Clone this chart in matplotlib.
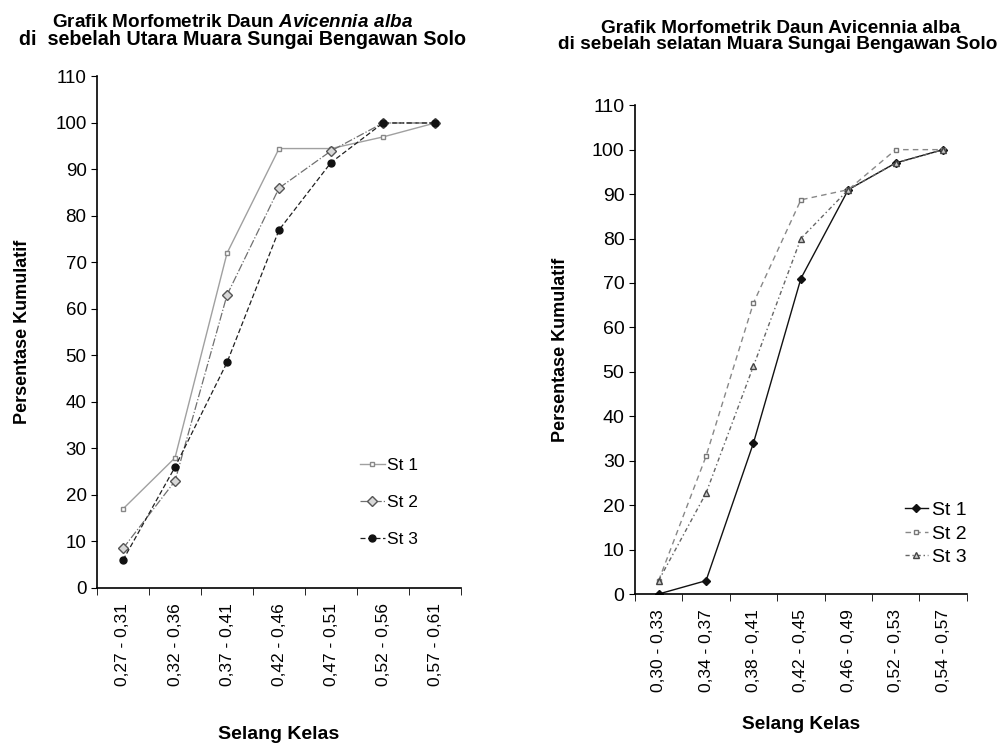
import numpy as np
import matplotlib
matplotlib.use("Agg")
from matplotlib import pyplot as plt

plt.rcParams['font.family'] = ['Liberation Sans', 'DejaVu Sans']
plt.rcParams['mathtext.fontset'] = 'custom'
plt.rcParams['mathtext.rm'] = 'Liberation Sans'
plt.rcParams['mathtext.bf'] = 'Liberation Sans:bold'
plt.rcParams['mathtext.bfit'] = 'Liberation Sans:bold:italic'

# kiri: sebelah utara
kelas_utara = ['0,27 - 0,31', '0,32 - 0,36', '0,37 - 0,41', '0,42 - 0,46',
               '0,47 - 0,51', '0,52 - 0,56', '0,57 - 0,61']
utara_st1 = [17, 28, 72, 94.5, 94.5, 97, 100]
utara_st2 = [8.5, 23, 63, 86, 94, 100, 100]
utara_st3 = [6, 26, 48.5, 77, 91.5, 100, 100]

# kanan: sebelah selatan
kelas_selatan = ['0,30 - 0,33', '0,34 - 0,37', '0,38 - 0,41', '0,42 - 0,45',
                 '0,46 - 0,49', '0,52 - 0,53', '0,54 - 0,57']
selatan_st1 = [0, 3, 34, 71, 91, 97, 100]
selatan_st2 = [3, 31, 65.5, 88.7, 91, 100, 100]
selatan_st3 = [3, 22.7, 51.3, 80, 91, 97, 100]

yticks = np.arange(0, 111, 10)

fig = plt.figure(figsize=(10.03, 7.44), dpi=100)
H = 744.0
W = 1003.0


def setup(ax, kelas, ysize, xlblsize, ylblsize):
    x = np.arange(len(kelas))
    ax.set_xlim(-0.5, len(kelas) - 0.5)
    ax.set_ylim(0, 110)
    ax.set_yticks(yticks)
    ax.set_xticks(x)
    ax.set_xticklabels(kelas, rotation=90, fontsize=12.5)
    ax.tick_params(axis='x', which='major', length=0, pad=11)
    ax.set_xticks(np.arange(-0.5, len(kelas)), minor=True)
    ax.tick_params(axis='x', which='minor', length=5, direction='out')
    ax.tick_params(axis='y', labelsize=ysize, length=4, direction='out')
    for s in ['top', 'right']:
        ax.spines[s].set_visible(False)
    ax.spines['left'].set_linewidth(1.2)
    ax.spines['bottom'].set_linewidth(1.2)
    ax.set_ylabel('Persentase Kumulatif', fontsize=ylblsize, fontweight='bold')
    ax.set_xlabel('Selang Kelas', fontsize=xlblsize, fontweight='bold')
    return x


ax1 = fig.add_axes([0.0967, 0.2097, 0.363, 0.6875])
x1 = setup(ax1, kelas_utara, 13.5, 14, 13)
ax1.plot(x1, utara_st1, color='#a0a0a0', lw=1, marker='s', ms=3,
         mfc='white', mec='#888888', label='St 1')
ax1.plot(x1, utara_st2, color='#707070', lw=0.9, ls='-.', marker='D', ms=5,
         mfc='#d8d8d8', mec='#555555', label='St 2')
ax1.plot(x1, utara_st3, color='#202020', lw=0.9, ls=(0, (4, 2)), marker='o',
         ms=5, mfc='#111111', mec='#111111', label='St 3')
ax1.yaxis.set_label_coords(-0.18, 0.5)
ax1.xaxis.set_label_coords(0.5, -0.27)
ax1.legend(loc='upper left', bbox_to_anchor=(0.68, 0.285), frameon=False,
           fontsize=12.5, handlelength=1.4, labelspacing=1.25,
           handletextpad=0.15)
fig.text(233 / W, 1 - 27 / H,
         'Grafik Morfometrik Daun $\\mathbfit{Avicennia\\ alba}$',
         ha='center', va='baseline', fontsize=13.6, fontweight='bold')
fig.text(243 / W, 1 - 45 / H,
         'di  sebelah Utara Muara Sungai Bengawan Solo',
         ha='center', va='baseline', fontsize=14.2, fontweight='bold')

ax2 = fig.add_axes([0.633, 0.2016, 0.331, 0.657])
x2 = setup(ax2, kelas_selatan, 14, 13.7, 13)
ax2.plot(x2, selatan_st1, color='#111111', lw=1, marker='D', ms=4,
         mfc='#111111', label='St 1')
ax2.plot(x2, selatan_st2, color='#888888', lw=1, ls=(0, (4, 3)), marker='s',
         ms=3, mfc='white', mec='#777777', label='St 2')
ax2.plot(x2, selatan_st3, color='#666666', lw=1, ls=(0, (3, 2, 1, 2)),
         marker='^', ms=4, mfc='#cccccc', mec='#444444', label='St 3')
ax2.yaxis.set_label_coords(-0.2, 0.5)
ax2.xaxis.set_label_coords(0.5, -0.25)
ax2.legend(loc='upper left', bbox_to_anchor=(0.76, 0.225), frameon=False,
           fontsize=14, handlelength=1.2, labelspacing=0.3,
           handletextpad=0.2)
fig.text(781 / W, 1 - 33 / H, 'Grafik Morfometrik Daun Avicennia alba',
         ha='center', va='baseline', fontsize=13.7, fontweight='bold')
fig.text(778 / W, 1 - 49 / H,
         'di sebelah selatan Muara Sungai Bengawan Solo',
         ha='center', va='baseline', fontsize=13.7, fontweight='bold')

fig.savefig('out.png', dpi=100)
